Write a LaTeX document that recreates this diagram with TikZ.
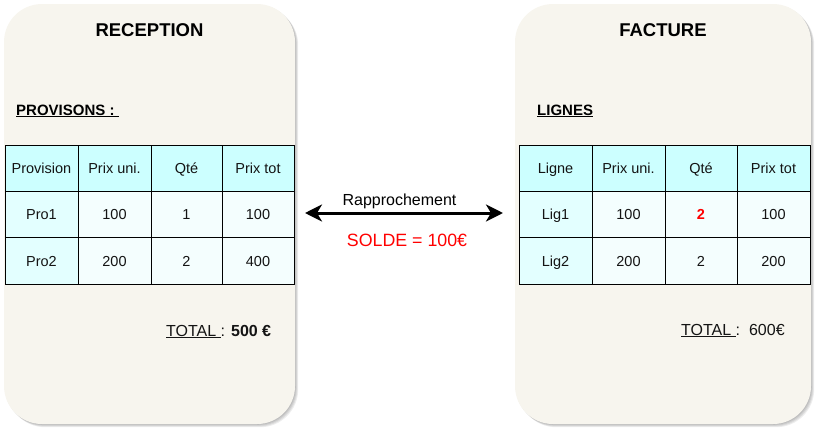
\documentclass[tikz,border=0pt]{standalone}
\usepackage{fontspec}
\setmainfont{Liberation Sans}
\usetikzlibrary{arrows.meta}
\definecolor{panelcol}{HTML}{F7F5EE}
\definecolor{hdcol}{HTML}{CCFFFF}
\definecolor{firstcol}{HTML}{E3FFFF}
\definecolor{bodycol}{HTML}{F4FEFE}
\definecolor{txt}{HTML}{141414}
\definecolor{redtxt}{HTML}{FF0000}
\begin{document}
\begin{tikzpicture}[x=1pt,y=-1pt,
  panel/.style={fill=panelcol, rounded corners=38pt, inner sep=0pt, outer sep=0pt, anchor=north west, minimum height=420pt},
  shad/.style={fill=black, opacity=0.07, rounded corners=38pt, inner sep=0pt, outer sep=0pt, anchor=north west, minimum height=420pt},
  cell/.style={draw=black, line width=1pt, inner sep=0pt, outer sep=0pt, anchor=north west, minimum height=46.33pt, text height=10.4pt, text depth=0pt, text=txt, font=\fontsize{14.5}{17}\selectfont},
  hd/.style={cell, fill=hdcol},
  cf/.style={cell, fill=firstcol},
  bd/.style={cell, fill=bodycol},
  ttl/.style={text=black, inner sep=0pt, font=\fontsize{18.5}{22}\selectfont\bfseries, anchor=base},
  lbl/.style={text=black, inner sep=0pt, font=\fontsize{15}{18}\selectfont, anchor=base west},
]
\useasboundingbox (0,0) rectangle (820,431);
% shadows
\foreach \d in {1,2,3,4}{
  \node[shad, minimum width=291pt] (s1\d) at (4+\d*0.8,4+\d*0.8) {};
  \node[shad, minimum width=296pt] (s2\d) at (515+\d*0.8,4+\d*0.8) {};
}
% panels
\node[panel, minimum width=291pt] (recp) at (4,4) {};
\node[panel, minimum width=296pt] (fact) at (515,4) {};
% titles
\node[ttl] (t1) at (149.5,36) {RECEPTION};
\node[ttl] (t2) at (663,36) {FACTURE};
\node[lbl, font=\fontsize{15}{18}\selectfont\bfseries] (prov) at (16,115) {\underline{PROVISONS :\ }};
\node[lbl, font=\fontsize{15}{18}\selectfont\bfseries] (lig) at (537,115) {\underline{LIGNES}};
% left table
\node[hd, minimum width=73pt] (a11) at (5,145) {Provision};
\node[hd, minimum width=73pt] (a12) at (78,145) {Prix uni.};
\node[hd, minimum width=71pt] (a13) at (151,145) {Qté};
\node[hd, minimum width=72pt] (a14) at (222,145) {Prix tot};
\node[cf, minimum width=73pt] (a21) at (5,191.33) {Pro1};
\node[bd, minimum width=73pt] (a22) at (78,191.33) {100};
\node[bd, minimum width=71pt] (a23) at (151,191.33) {1};
\node[bd, minimum width=72pt] (a24) at (222,191.33) {100};
\node[cf, minimum width=73pt] (a31) at (5,237.67) {Pro2};
\node[bd, minimum width=73pt] (a32) at (78,237.67) {200};
\node[bd, minimum width=71pt] (a33) at (151,237.67) {2};
\node[bd, minimum width=72pt] (a34) at (222,237.67) {400};
% right table
\node[hd, minimum width=73pt] (b11) at (519,145) {Ligne};
\node[hd, minimum width=73pt] (b12) at (592,145) {Prix uni.};
\node[hd, minimum width=72pt] (b13) at (665,145) {Qté};
\node[hd, minimum width=73pt] (b14) at (737,145) {Prix tot};
\node[cf, minimum width=73pt] (b21) at (519,191.33) {Lig1};
\node[bd, minimum width=73pt] (b22) at (592,191.33) {100};
\node[bd, minimum width=72pt, text=redtxt, font=\fontsize{14.5}{17}\selectfont\bfseries] (b23) at (665,191.33) {2};
\node[bd, minimum width=73pt] (b24) at (737,191.33) {100};
\node[cf, minimum width=73pt] (b31) at (519,237.67) {Lig2};
\node[bd, minimum width=73pt] (b32) at (592,237.67) {200};
\node[bd, minimum width=72pt] (b33) at (665,237.67) {2};
\node[bd, minimum width=73pt] (b34) at (737,237.67) {200};
% totals
\node[lbl, text=txt, font=\fontsize{16}{19}\selectfont] (tot1) at (166,336) {\underline{TOTAL\ }: \textbf{500 €}};
\node[lbl, text=txt, font=\fontsize{16}{19}\selectfont] (tot2) at (681,335) {\underline{TOTAL\ }:\ \ 600€};
% arrow
\coordinate (al) at (305,213);
\coordinate (ar) at (503,213);
\draw[line width=3pt, {Stealth[length=17pt,width=17pt,inset=5pt]}-{Stealth[length=17pt,width=17pt,inset=5pt]}] (al) -- (ar);
\node[lbl, anchor=base, font=\fontsize{16}{19}\selectfont] (rap) at (399.5,205) {Rapprochement};
\node[lbl, anchor=base, text=redtxt, font=\fontsize{17.8}{21}\selectfont] (solde) at (407,246) {SOLDE = 100€};
\end{tikzpicture}
\end{document}
